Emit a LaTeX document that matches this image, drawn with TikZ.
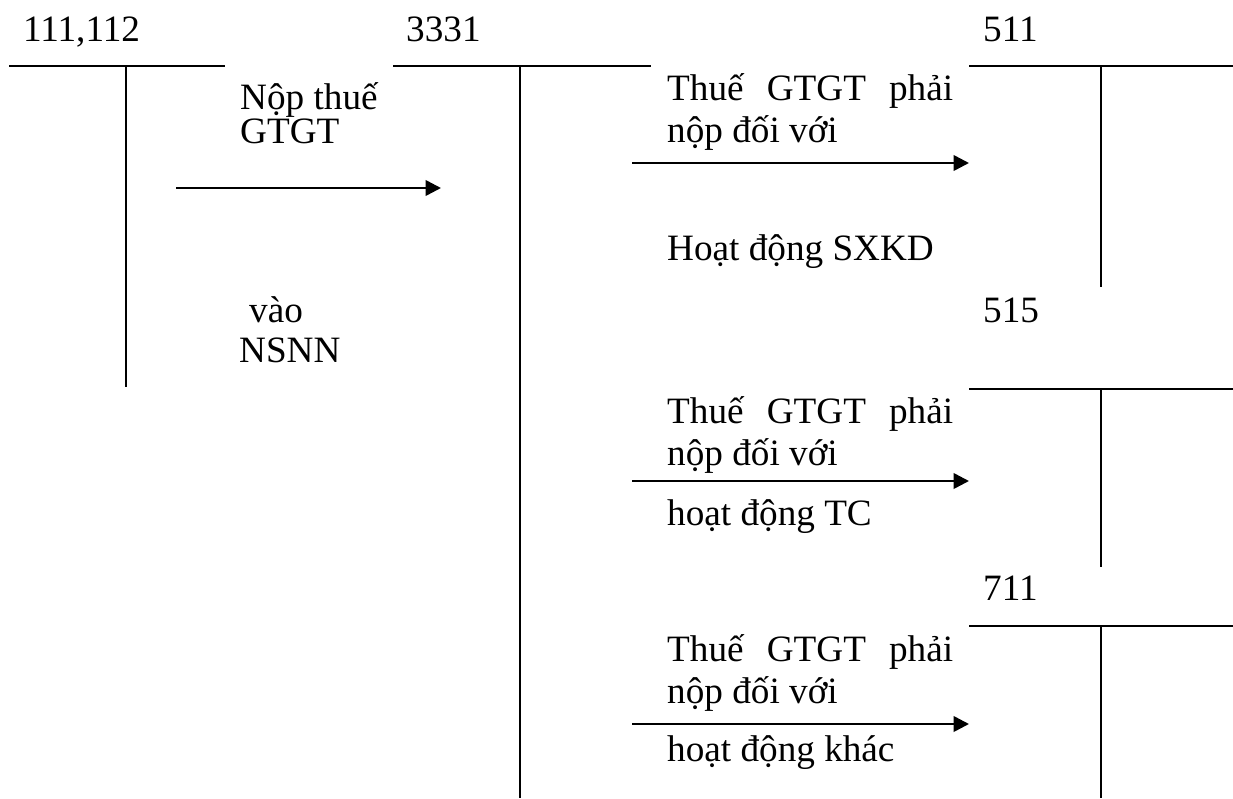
\documentclass[tikz,border=0pt]{standalone}
\usepackage{fontspec}
\setmainfont{Liberation Serif}
\usetikzlibrary{arrows.meta}
\begin{document}
\begin{tikzpicture}[x=1pt,y=-1pt,
  tline/.style={line width=2.6pt},
  arr/.style={line width=2.6pt,-{Triangle[length=15.5pt,width=15.5pt]}},
  txt/.style={anchor=base west,inner sep=0pt,font=\fontsize{37.2pt}{42pt}\selectfont},
]
\useasboundingbox (0,0) rectangle (1233,798);

% account labels
\node[txt] (lA) at (23,41) {111,112};
\node[txt] (lB) at (406,41) {3331};
\node[txt] (lC) at (983,41) {511};
\node[txt] (lD) at (983,322) {515};
\node[txt] (lE) at (983,600) {711};

% T-account 111,112
\coordinate (A1) at (9,66);   \coordinate (A2) at (225,66);
\coordinate (A3) at (126,66); \coordinate (A4) at (126,387);
\draw[tline] (A1) -- (A2);
\draw[tline] (A3) -- (A4);

% T-account 3331
\coordinate (B1) at (393,66); \coordinate (B2) at (651,66);
\coordinate (B3) at (520,66); \coordinate (B4) at (520,798);
\draw[tline] (B1) -- (B2);
\draw[tline] (B3) -- (B4);

% T-account 511
\coordinate (C1) at (969,66);  \coordinate (C2) at (1233,66);
\coordinate (C3) at (1101,66); \coordinate (C4) at (1101,287);
\draw[tline] (C1) -- (C2);
\draw[tline] (C3) -- (C4);

% T-account 515
\coordinate (D1) at (969,389);  \coordinate (D2) at (1233,389);
\coordinate (D3) at (1101,389); \coordinate (D4) at (1101,567);
\draw[tline] (D1) -- (D2);
\draw[tline] (D3) -- (D4);

% T-account 711
\coordinate (E1) at (969,626);  \coordinate (E2) at (1233,626);
\coordinate (E3) at (1101,626); \coordinate (E4) at (1101,798);
\draw[tline] (E1) -- (E2);
\draw[tline] (E3) -- (E4);

% arrows
\coordinate (s1) at (176,188); \coordinate (e1) at (441,188);
\coordinate (s2) at (632,163); \coordinate (e2) at (969,163);
\coordinate (s3) at (632,481); \coordinate (e3) at (969,481);
\coordinate (s4) at (632,724); \coordinate (e4) at (969,724);
\draw[arr] (s1) -- (e1);
\draw[arr] (s2) -- (e2);
\draw[arr] (s3) -- (e3);
\draw[arr] (s4) -- (e4);

% texts, first arrow
\node[txt] (n1) at (240,109) {Nộp thuế};
\node[txt] (n2) at (240,143) {GTGT};
\node[txt] (n3) at (249,322) {vào};
\node[txt] (n4) at (239,362) {NSNN};

% texts, 511
\node[txt] (p1) at (667,100) {\makebox[286pt][s]{Thuế GTGT phải}};
\node[txt] (p2) at (667,142) {nộp đối với};
\node[txt] (p3) at (667,260) {Hoạt động SXKD};

% texts, 515
\node[txt] (q1) at (667,423) {\makebox[286pt][s]{Thuế GTGT phải}};
\node[txt] (q2) at (667,465) {nộp đối với};
\node[txt] (q3) at (667,525) {hoạt động TC};

% texts, 711
\node[txt] (r1) at (667,661) {\makebox[286pt][s]{Thuế GTGT phải}};
\node[txt] (r2) at (667,703) {nộp đối với};
\node[txt] (r3) at (667,761) {hoạt động khác};
\end{tikzpicture}
\end{document}
